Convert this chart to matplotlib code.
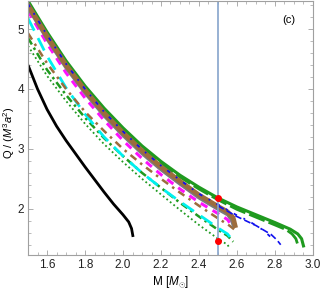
import matplotlib
matplotlib.use('Agg')
import matplotlib.pyplot as plt
from matplotlib.ticker import MultipleLocator

plt.rcParams['font.family'] = ['Liberation Sans', 'DejaVu Sans']
plt.rcParams['mathtext.fontset'] = 'custom'
plt.rcParams['mathtext.rm'] = 'Liberation Sans'
plt.rcParams['mathtext.it'] = 'Liberation Sans:italic'

# Curva negra (izquierda)
m_black = [1.5, 1.55, 1.6, 1.65, 1.7, 1.75, 1.8, 1.85, 1.9, 1.95, 2.0, 2.03, 2.045, 2.053]
q_black = [4.4, 4.0, 3.66, 3.38, 3.14, 2.92, 2.7, 2.49, 2.28, 2.08, 1.9, 1.78, 1.67, 1.53]

# Grupo superior
m_green = [1.5, 1.6, 1.7, 1.8, 1.9, 2.0, 2.1, 2.2, 2.3, 2.4, 2.5, 2.6, 2.7, 2.8, 2.88, 2.92, 2.94, 2.95]
q_green = [5.47, 4.95, 4.47, 4.05, 3.68, 3.35, 3.05, 2.79, 2.56, 2.36, 2.18, 2.03, 1.9, 1.77, 1.66, 1.58, 1.5, 1.38]

m_green_b = [1.5, 1.6, 1.7, 1.8, 1.9, 2.0, 2.1, 2.2, 2.3, 2.4, 2.5, 2.6, 2.7, 2.8, 2.86, 2.89, 2.91, 2.92]
q_green_b = [5.45, 4.93, 4.45, 4.03, 3.66, 3.33, 3.03, 2.76, 2.53, 2.33, 2.15, 1.99, 1.86, 1.73, 1.65, 1.58, 1.5, 1.4]

m_brown = [1.5, 1.6, 1.7, 1.8, 1.9, 2.0, 2.1, 2.2, 2.3, 2.4, 2.5, 2.55, 2.58, 2.59]
q_brown = [5.4, 4.88, 4.4, 3.98, 3.6, 3.27, 2.97, 2.7, 2.46, 2.23, 2.04, 1.95, 1.85, 1.72]

m_gray = [1.5, 1.6, 1.7, 1.8, 1.9, 2.0, 2.1, 2.2, 2.3, 2.4, 2.5, 2.55, 2.57, 2.58]
q_gray = [5.35, 4.83, 4.35, 3.93, 3.55, 3.22, 2.92, 2.65, 2.41, 2.18, 1.99, 1.9, 1.82, 1.72]

m_blue = [1.5, 1.6, 1.7, 1.8, 1.9, 2.0, 2.1, 2.2, 2.3, 2.4, 2.5, 2.6, 2.66, 2.74, 2.78]
q_blue = [5.42, 4.9, 4.42, 4.0, 3.62, 3.29, 2.99, 2.72, 2.48, 2.25, 2.07, 1.89, 1.8, 1.64, 1.52]

m_blue_b = [2.5, 2.6, 2.7, 2.78, 2.81, 2.83]
q_blue_b = [2.05, 1.87, 1.72, 1.57, 1.48, 1.4]

m_magenta = [1.5, 1.6, 1.7, 1.8, 1.9, 2.0, 2.1, 2.2, 2.3, 2.4, 2.5, 2.55, 2.57]
q_magenta = [5.3, 4.76, 4.27, 3.85, 3.48, 3.14, 2.84, 2.57, 2.33, 2.11, 1.92, 1.82, 1.73]

# Grupo inferior
m_brown_b = [1.5, 1.6, 1.7, 1.8, 1.9, 2.0, 2.1, 2.2, 2.3, 2.4, 2.5, 2.56, 2.6]
q_brown_b = [4.93, 4.43, 4.0, 3.62, 3.3, 3.0, 2.74, 2.5, 2.27, 2.05, 1.84, 1.72, 1.62]

m_cyan = [1.5, 1.6, 1.7, 1.8, 1.9, 2.0, 2.1, 2.2, 2.3, 2.4, 2.5, 2.55, 2.57]
q_cyan = [5.18, 4.55, 4.02, 3.58, 3.2, 2.88, 2.6, 2.35, 2.12, 1.9, 1.68, 1.58, 1.5]

m_green_c = [1.5, 1.6, 1.7, 1.8, 1.9, 2.0, 2.1, 2.2, 2.3, 2.4, 2.5, 2.55, 2.58]
q_green_c = [4.85, 4.32, 3.9, 3.52, 3.18, 2.88, 2.6, 2.35, 2.1, 1.87, 1.65, 1.55, 1.45]

m_green_d = [1.5, 1.6, 1.7, 1.8, 1.9, 2.0, 2.1, 2.2, 2.3, 2.4, 2.5, 2.55, 2.56]
q_green_d = [4.72, 4.22, 3.8, 3.42, 3.08, 2.78, 2.5, 2.24, 1.98, 1.73, 1.5, 1.4, 1.35]

# Puntos rojos sobre M = 2.5
m_red = [2.5, 2.5]
q_red = [2.18, 1.46]

fig = plt.figure(figsize=(3.22, 2.91), dpi=100)
ax = fig.add_axes([0.087, 0.124, 0.885, 0.873])

ax.plot(m_black, q_black, color='black', lw=2.0, solid_capstyle='butt')

ax.plot(m_green_d, q_green_d, color='#1f9a1f', lw=1.3, linestyle=(0, (1, 1.5)))
ax.plot(m_green_c, q_green_c, color='#1f9a1f', lw=1.8, linestyle=(0, (3, 1.5, 1, 1.5)))
ax.plot(m_cyan, q_cyan, color='#00f0f0', lw=2.0, linestyle=(0, (5, 3)))
ax.plot(m_brown_b, q_brown_b, color='#9c6c3c', lw=1.8, linestyle=(0, (3, 2, 1, 2)))

ax.plot(m_magenta, q_magenta, color='#ff10ff', lw=2.2, linestyle=(0, (2.5, 2)))
ax.plot(m_green_b, q_green_b, color='#1f9a1f', lw=2.0, linestyle=(0, (6, 1.5)))
ax.plot(m_green, q_green, color='#1f9a1f', lw=2.2)
ax.plot(m_gray, q_gray, color='#7a7a7a', lw=2.2)
ax.plot(m_brown, q_brown, color='#9c6c3c', lw=3.4)
ax.plot(m_blue_b, q_blue_b, color='#1010ee', lw=1.2, linestyle=(0, (4, 2)))
ax.plot(m_blue, q_blue, color='#1010ee', lw=1.3, linestyle=(0, (2, 4, 1, 4)))

ax.axvline(2.5, color='#86a4cc', lw=1.2)
ax.plot(m_red, q_red, 'o', color='red', ms=4, zorder=5)

ax.text(0.915, 0.925, '(c)', transform=ax.transAxes, fontsize=8, ha='center', va='center')

ax.set_xlim(1.5, 3.0)
ax.set_ylim(1.23, 5.47)
ax.set_xticks([1.6, 1.8, 2.0, 2.2, 2.4, 2.6, 2.8, 3.0])
ax.xaxis.set_minor_locator(MultipleLocator(0.05))
ax.yaxis.set_major_locator(MultipleLocator(1))
ax.yaxis.set_minor_locator(MultipleLocator(0.2))
ax.xaxis.set_major_formatter(plt.FuncFormatter(lambda v, p: f'{v:.1f}'))

for s in ax.spines.values():
    s.set_color('#a0a0a0')
    s.set_linewidth(0.8)
ax.tick_params(which='both', direction='in', top=True, right=True, color='#a0a0a0',
               labelsize=8.5, labelcolor='#222222')
ax.tick_params(which='major', length=3.5, width=0.6, pad=3)
ax.tick_params(which='minor', length=2, width=0.5)

ax.set_xlabel(r'M [$M_{\odot}$]', fontsize=8.5, labelpad=2)
ax.set_ylabel(r'Q / ($M^3a^2$)', fontsize=8)
ax.yaxis.set_label_coords(-0.038, 0.48)

plt.savefig('out.png', dpi=100)
